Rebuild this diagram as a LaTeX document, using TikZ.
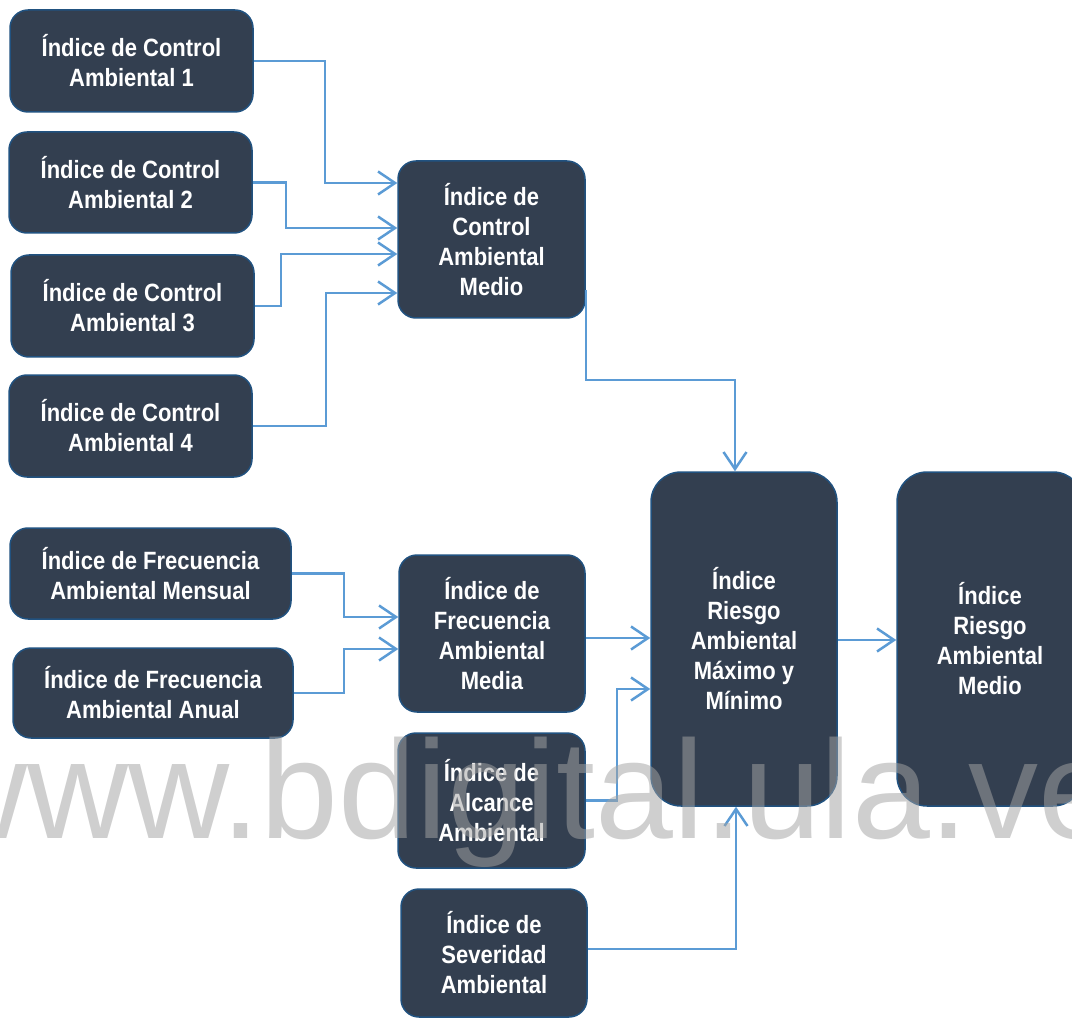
\documentclass[tikz,border=0pt]{standalone}
\usepackage{xcolor}
\usepackage{fontspec}
\usepackage{tikz}
\usetikzlibrary{arrows.meta,positioning,calc}
\newfontfamily\boxfont[FakeStretch=0.88]{Liberation Sans}
\newfontfamily\markfont{Liberation Sans}
\definecolor{boxfill}{RGB}{51,63,80}
\definecolor{boxline}{RGB}{33,82,128}
\definecolor{linkblue}{RGB}{91,155,213}

\begin{document}
\begin{tikzpicture}[
    x=1pt, y=-1pt,
    indexbox/.style={rectangle, draw=boxline, fill=boxfill, line width=1.5pt, rounded corners=18pt,
        text=white, align=center, inner sep=0pt, font=\boxfont\bfseries\fontsize{25}{30}\selectfont},
    tallbox/.style={indexbox, rounded corners=30pt, minimum width=186pt, minimum height=334pt},
    link/.style={draw=linkblue, line width=2.5pt, -{Straight Barb[length=17pt,width=23pt]}}
]
    \useasboundingbox (0,0) rectangle (1072,1019);

    % Control indices
    \node[indexbox, minimum width=243pt, minimum height=102pt] (c1) at (131.5,61) {Índice de Control\\Ambiental 1};
    \node[indexbox, minimum width=243pt, minimum height=101pt] (c2) at (130.5,182.5) {Índice de Control\\Ambiental 2};
    \node[indexbox, minimum width=243pt, minimum height=102pt] (c3) at (132.5,306) {Índice de Control\\Ambiental 3};
    \node[indexbox, minimum width=243pt, minimum height=102pt] (c4) at (130.5,426) {Índice de Control\\Ambiental 4};
    \node[indexbox, minimum width=187pt, minimum height=157pt] (cm) at (491.5,239.5) {Índice de\\Control\\Ambiental\\Medio};

    % Frequency, reach and severity
    \node[indexbox, minimum width=281pt, minimum height=91pt] (fm) at (150.5,573.5) {Índice de Frecuencia\\Ambiental Mensual};
    \node[indexbox, minimum width=280pt, minimum height=90pt] (fa) at (153,693) {Índice de Frecuencia\\Ambiental Anual};
    \node[indexbox, minimum width=186pt, minimum height=157pt] (fmed) at (492,633.5) {Índice de\\Frecuencia\\Ambiental\\Media};
    \node[indexbox, minimum width=187pt, minimum height=135pt] (al) at (491.5,800.5) {Índice de\\Alcance\\Ambiental};
    \node[indexbox, minimum width=186pt, minimum height=128pt] (sv) at (494,953) {Índice de\\Severidad\\Ambiental};

    % Risk
    \node[tallbox] (rmm) at (744,639) {Índice\\Riesgo\\Ambiental\\Máximo y\\Mínimo};
    \node[tallbox] (rm) at (990,639) {Índice\\Riesgo\\Ambiental\\Medio};

    % Connectors
    \foreach \n/\bx/\ty in {c1/325/183, c2/286/228, c3/281/254, c4/326/293}
        \draw[link] (\n.east) -| (\bx,\ty) -- (cm.west |- 0,\ty);
    \draw[link] (cm.east |- 0,290) |- (735,380) -- (735,0 |- rmm.north);
    \draw[link] (fm.east) -| (344,617) -- (fmed.west |- 0,617);
    \draw[link] (fa.east) -| (344,649) -- (fmed.west |- 0,649);
    \draw[link] (fmed.east |- 0,638) -- (rmm.west |- 0,638);
    \draw[link] (al.east) -| (617,689) -- (rmm.west |- 0,689);
    \draw[link] (sv.east |- 0,949) -| (736,0 |- rmm.south);
    \draw[link] (rmm.east |- 0,640) -- (rm.west |- 0,640);

    % Watermark
    \node[anchor=base west, inner sep=0pt, text=black!36, text opacity=0.52,
        font=\markfont\fontsize{140}{140}\selectfont] (mark) at (-74,838) {www.bdigital.ula.ve};
\end{tikzpicture}
\end{document}
